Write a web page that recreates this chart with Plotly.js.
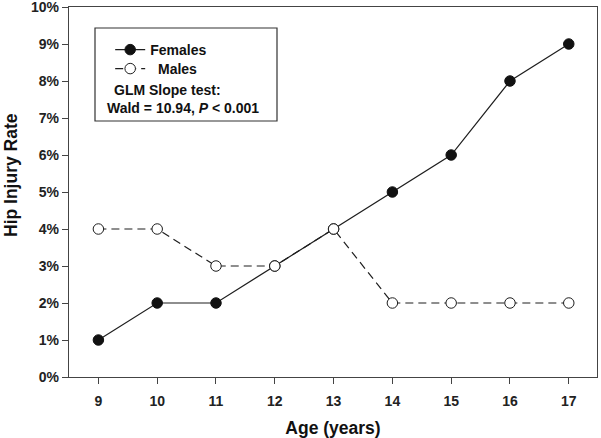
<!DOCTYPE html>
<html>
<head>
<meta charset="utf-8">
<script src="https://cdn.plot.ly/plotly-3.0.1.min.js"></script>
<style>html,body{margin:0;padding:0;background:#fff}#chart{width:601px;height:438px}</style>
</head>
<body>
<div id="chart"></div>
<script>
const ages = [9, 10, 11, 12, 13, 14, 15, 16, 17];
const females = [1, 2, 2, 3, 4, 5, 6, 8, 9];
const males = [4, 4, 3, 3, 4, 2, 2, 2, 2];
const yTickVals = [0,1,2,3,4,5,6,7,8,9,10];
const yTickText = ['0%','1%','2%','3%','4%','5%','6%','7%','8%','9%','10%'];

const ink = '#1e1e1e';
const traces = [
  {x: ages, y: females, name: 'Females', type: 'scatter', mode: 'lines+markers', legend: 'legend',
   line: {color: ink, width: 1.2},
   marker: {symbol: 'circle', size: 10.5, color: '#111', line: {color: '#111', width: 1}}},
  {x: ages, y: males, name: '\u00a0\u00a0Males', type: 'scatter', mode: 'lines+markers', legend: 'legend2',
   line: {color: ink, width: 1.2, dash: '8px,5px'},
   marker: {symbol: 'circle', size: 10.5, color: '#fff', line: {color: ink, width: 1}}}
];

const legendStyle = {xanchor: 'left', yanchor: 'top', bgcolor: 'rgba(0,0,0,0)', borderwidth: 0,
  font: {size: 14, weight: 'bold', color: '#111'}, itemwidth: 30};

const layout = {
  width: 601, height: 438,
  margin: {l: 69, r: 4, t: 7, b: 61},
  paper_bgcolor: '#fff', plot_bgcolor: '#fff',
  font: {family: 'Liberation Sans, Arial, sans-serif', color: '#222', size: 14},
  showlegend: true,
  legend: Object.assign({x: 0.078, y: 0.927}, legendStyle),
  legend2: Object.assign({x: 0.078, y: 0.8757}, legendStyle),
  xaxis: {range: [8.5, 17.48], tickvals: ages, ticks: 'outside', ticklen: 6, tickcolor: '#444',
          showline: true, linecolor: '#444', linewidth: 1.2, mirror: true, showgrid: false, zeroline: false,
          ticklabelstandoff: 5,
          tickfont: {size: 14, weight: 'bold', color: '#222'},
          title: {text: 'Age (years)', font: {size: 17.5, weight: 'bold', color: '#111'}, standoff: 16}},
  yaxis: {range: [0, 10.0001], tickvals: yTickVals, ticktext: yTickText, ticks: 'outside', ticklen: 6, tickcolor: '#444',
          showline: true, linecolor: '#444', linewidth: 1.2, mirror: true, showgrid: false, zeroline: false,
          ticklabeloverflow: 'allow',
          tickfont: {size: 14, weight: 'bold', color: '#222'}},
  shapes: [
    {type: 'rect', xref: 'paper', yref: 'paper',
     x0: (95-69)/528, x1: (277-69)/528, y0: (377-121)/370, y1: (377-28)/370,
     line: {color: '#333', width: 1.2}, fillcolor: 'rgba(0,0,0,0)'}
  ],
  annotations: [
    {text: 'GLM Slope test:', xref: 'paper', yref: 'paper', x: (167-69)/528, y: (377-90)/370,
     xanchor: 'center', yanchor: 'middle',
     showarrow: false, font: {size: 14, weight: 'bold', color: '#111'}},
    {text: 'Wald = 10.94, <i>P</i> < 0.001', xref: 'paper', yref: 'paper', x: (183-69)/528, y: (377-108)/370,
     xanchor: 'center', yanchor: 'middle',
     showarrow: false, font: {size: 14, weight: 'bold', color: '#111'}},
    {text: 'Hip Injury Rate', xref: 'paper', yref: 'paper', x: (11-69)/528, y: (377-175)/370,
     xanchor: 'center', yanchor: 'middle', textangle: -90,
     showarrow: false, font: {size: 17.5, weight: 'bold', color: '#111'}}
  ]
};

Plotly.newPlot('chart', traces, layout, {displayModeBar: false, staticPlot: true});
</script>
</body>
</html>
